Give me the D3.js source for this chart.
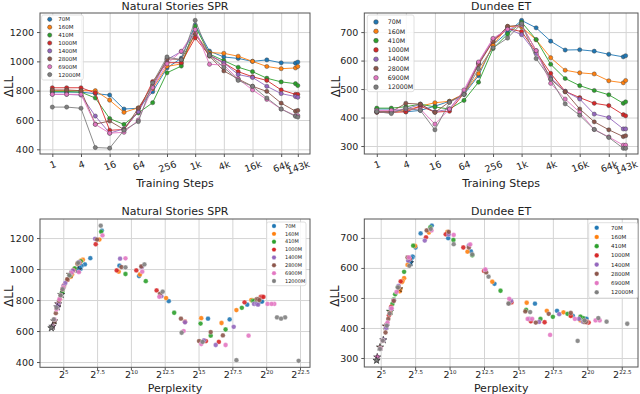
<!DOCTYPE html>
<html><head><meta charset="utf-8">
<script src="https://cdn.jsdelivr.net/npm/d3@7"></script>
<style>body{margin:0;background:#fff} svg{display:block} text{font-family:"DejaVu Sans",sans-serif;fill:#222}</style>
</head><body><svg id="c" width="640" height="394"></svg>
<script>
// ---------- data ----------
const steps = [1,2,4,8,16,32,64,128,256,512,1000,2000,4000,8000,16000,32000,64000,128000,143000];
const models = ["70M","160M","410M","1000M","1400M","2800M","6900M","12000M"];
const colors = ["#1f77b4","#ff7f0e","#2ca02c","#d62728","#9467bd","#8c564b","#e377c2","#7f7f7f"];
const stepTicks = [1,4,16,64,256,1000,4000,16000,64000,143000];
const stepTickLabels = ["1","4","16","64","256","1k","4k","16k","64k","143k"];
const pplTickExps = [5,7.5,10,12.5,15,17.5,20,22.5];
const pplTickLabels = ["5","7.5","10","12.5","15","17.5","20","22.5"];
const nsYTicks = [400,600,800,1000,1200];
const duYTicks = [300,400,500,600,700];

// Natural Stories SPR: delta LL per checkpoint
const ns70M   = [790,790,790,780,770,675,680,793,955,1022,1248,1070,1030,1020,1000,1010,990,988,995];
const ns160M  = [800,800,800,800,735,652,683,813,965,983,1190,1060,1055,1035,1000,965,950,955,965];
const ns410M  = [795,795,790,750,610,570,648,718,922,968,1240,1050,1005,960,930,885,860,848,835];
const ns1000M = [820,820,820,785,530,535,660,862,991,991,1160,1040,990,930,895,870,805,775,775];
const ns1400M = [775,775,770,627,510,540,656,825,1012,1067,1195,1045,990,910,890,830,780,760,755];
const ns2800M = [805,805,800,572,593,535,680,840,1017,1013,1190,1035,935,880,830,795,715,660,665];
const ns6900M = [775,775,775,570,510,516,600,821,983,1069,1217,980,975,880,805,740,675,630,630];
const ns12000M= [688,688,680,412,408,530,589,854,1030,1011,1280,1040,960,870,830,750,675,625,620];
// Natural Stories SPR: log2 perplexity per checkpoint
const nsLogPpl70M   = [19.5,19.6,19.7,19.3,18.6,17.3,15.7,12.8,10.6,9.15,7.85,7.0,6.6,6.35,6.28,6.22,6.15,6.12,6.1];
const nsLogPpl160M  = [19.0,19.2,19.4,18.9,17.8,16.7,15.2,12.6,10.67,9.1,7.67,6.45,6.3,6.05,5.8,5.65,5.55,5.55,5.5];
const nsLogPpl410M  = [19.0,19.1,19.3,18.2,17.0,15.9,15.15,13.2,11.1,9.6,7.8,6.3,5.85,5.5,5.3,5.05,4.95,4.9,4.85];
const nsLogPpl1000M = [19.6,19.7,19.8,18.4,16.5,15.55,14.0,11.9,10.4,8.95,7.4,6.2,5.75,5.3,5.05,4.95,4.75,4.65,4.63];
const nsLogPpl1400M = [19.1,19.3,19.4,17.6,16.27,15.4,14.0,12.25,10.8,9.2,7.35,6.15,5.7,5.15,5.02,4.82,4.65,4.58,4.56];
const nsLogPpl2800M = [19.3,19.4,19.5,16.8,15.9,15.04,13.7,12.15,10.77,9.3,7.5,6.05,5.3,5.0,4.8,4.68,4.45,4.35,4.33];
const nsLogPpl6900M = [20.1,20.6,20.4,18.7,17.0,15.2,13.9,12.1,10.84,9.6,7.9,6.15,5.6,5.0,4.72,4.5,4.35,4.22,4.2];
const nsLogPpl12000M= [20.8,21.4,21.1,17.8,22.4,15.3,13.75,12.35,11.0,9.6,7.77,6.1,5.45,4.95,4.8,4.5,4.3,4.15,4.12];

// Dundee ET: delta LL per checkpoint
const du70M   = [430,430,420,425,440,457,481,547,655,699,741,715,668,637,638,633,622,613,617];
const du160M  = [420,420,425,440,452,457,484,554,654,720,718,673,610,566,557,553,529,522,530];
const du410M  = [433,433,438,447,437,430,460,524,642,693,735,674,587,537,512,495,480,450,455];
const du1000M = [418,418,420,440,419,422,485,590,668,712,702,630,555,492,470,450,442,410,406];
const du1400M = [420,420,430,446,420,430,490,592,675,712,691,625,540,492,465,412,400,360,360];
const du2800M = [420,420,450,447,418,455,482,585,668,720,725,635,535,490,430,385,357,333,336];
const du6900M = [425,425,430,430,377,430,497,595,678,710,725,635,520,465,418,358,332,303,303];
const du12000M= [421,414,433,425,357,453,481,571,645,679,730,607,535,448,408,358,330,292,292];
// Dundee ET: log2 perplexity per checkpoint
const duLogPpl70M   = [19.85,19.95,19.75,19.6,18.95,17.8,16.2,13.26,11.55,9.9,8.71,7.9,7.53,7.35,7.3,7.25,7.18,7.15,7.13];
const duLogPpl160M  = [20.0,19.8,19.5,18.8,18.27,17.06,15.6,13.1,11.3,9.84,8.5,7.5,6.95,6.7,6.6,6.55,6.42,6.38,6.35];
const duLogPpl410M  = [19.6,19.7,19.5,18.56,17.5,16.6,15.56,13.7,11.65,10.28,8.6,7.36,6.7,6.25,6.05,5.95,5.85,5.7,5.68];
const duLogPpl1000M = [20.0,20.1,19.97,18.8,16.9,15.9,14.5,12.5,11.0,9.72,8.29,7.1,6.45,5.95,5.75,5.67,5.6,5.4,5.38];
const duLogPpl1400M = [19.7,19.9,19.4,17.96,16.5,15.8,14.47,12.6,11.4,9.94,8.2,7.0,6.3,5.95,5.75,5.45,5.4,5.2,5.19];
const duLogPpl2800M = [19.8,19.9,18.8,17.2,16.26,15.5,14.3,12.66,11.4,9.94,8.34,6.95,6.3,5.95,5.55,5.35,5.15,4.97,4.95];
const duLogPpl6900M = [20.6,20.9,19.1,15.67,17.3,16.0,14.33,12.6,11.5,10.3,8.69,7.05,6.15,5.8,5.5,5.15,4.98,4.77,4.75];
const duLogPpl12000M= [21.4,22.9,20.8,19.8,19.3,15.85,14.28,12.83,11.65,10.3,8.63,7.08,6.25,5.65,5.45,5.15,4.95,4.72,4.7];

const nsDelta = [ns70M,ns160M,ns410M,ns1000M,ns1400M,ns2800M,ns6900M,ns12000M];
const nsPpl = [nsLogPpl70M,nsLogPpl160M,nsLogPpl410M,nsLogPpl1000M,nsLogPpl1400M,nsLogPpl2800M,nsLogPpl6900M,nsLogPpl12000M];
const duDelta = [du70M,du160M,du410M,du1000M,du1400M,du2800M,du6900M,du12000M];
const duPpl = [duLogPpl70M,duLogPpl160M,duLogPpl410M,duLogPpl1000M,duLogPpl1400M,duLogPpl2800M,duLogPpl6900M,duLogPpl12000M];

// ---------- drawing ----------
const svg = d3.select("#c");
svg.append("rect").attr("width",640).attr("height",394).attr("fill","#fff");
const GRID = "#d4d4d4", SPINE = "#555";

function frame(p, x, y, yTicks, xTickVals) {
  const g = svg.append("g");
  g.append("g").attr("transform",`translate(0,${p.y1})`)
    .call(d3.axisBottom(x).tickValues(xTickVals).tickSize(-(p.y1-p.y0)).tickFormat(""))
    .call(a=>{a.select(".domain").remove(); a.selectAll("line").attr("stroke",GRID).attr("stroke-width",1);});
  g.append("g").attr("transform",`translate(${p.x0},0)`)
    .call(d3.axisLeft(y).tickValues(yTicks).tickSize(-(p.x1-p.x0)).tickFormat(""))
    .call(a=>{a.select(".domain").remove(); a.selectAll("line").attr("stroke",GRID).attr("stroke-width",1);});
  return g;
}
function spines(p, x, y, yTicks, xTickVals, xFormat, rotated) {
  const g = svg.append("g");
  g.append("rect").attr("x",p.x0).attr("y",p.y0).attr("width",p.x1-p.x0).attr("height",p.y1-p.y0)
    .attr("fill","none").attr("stroke",SPINE).attr("stroke-width",1);
  const ya = g.append("g").attr("transform",`translate(${p.x0},0)`)
    .call(d3.axisLeft(y).tickValues(yTicks).tickSize(3).tickPadding(3).tickFormat(d3.format("d")));
  ya.select(".domain").remove();
  ya.selectAll("line").attr("stroke",SPINE);
  ya.selectAll("text").attr("font-size",9.5).attr("fill","#222").attr("font-family","DejaVu Sans");
  const xa = g.append("g").attr("transform",`translate(0,${p.y1})`)
    .call(d3.axisBottom(x).tickValues(xTickVals).tickSize(3).tickPadding(3).tickFormat((d,i)=>rotated?xFormat[i]:""));
  xa.select(".domain").remove();
  xa.selectAll("line").attr("stroke",SPINE);
  if (rotated) {
    xa.selectAll("text").attr("font-size",9.5).attr("fill","#222").attr("font-family","DejaVu Sans")
      .attr("y",0).attr("dy","0.35em").attr("text-anchor","middle")
      .each(function(){
        const w = this.getComputedTextLength(), h = 9.5;
        const a = 20*Math.PI/180;
        const H = w*Math.sin(a) + h*Math.cos(a);
        d3.select(this).attr("transform",`translate(0,${5+H/2}) rotate(-20)`);
      });
  } else {
    xa.selectAll(".tick").each(function(d,i){
      const t = d3.select(this).append("text").attr("y",11).attr("text-anchor","middle")
        .attr("font-family","DejaVu Sans").attr("fill","#222");
      t.append("tspan").attr("font-size",9.5).text("2");
      t.append("tspan").attr("font-size",5.5).attr("dy",-4).text(xFormat[i]);
    });
  }
  return g;
}
function labels(p, title, xlab, titleY, xlabY, ylabX) {
  const cx = (p.x0+p.x1)/2;
  svg.append("text").attr("x",cx).attr("y",titleY).attr("text-anchor","middle").attr("font-size",11).text(title);
  svg.append("text").attr("x",cx).attr("y",xlabY).attr("text-anchor","middle").attr("font-size",11).text(xlab);
  const cy = (p.y0+p.y1)/2 + 3;
  svg.append("text").attr("transform",`translate(${ylabX},${cy}) rotate(-90)`).attr("text-anchor","middle").attr("font-size",12).text("ΔLL");
}
function legend(box, mx, lx, y0, dy, fs, r, edge) {
  const g = svg.append("g");
  g.append("rect").attr("x",box[0]).attr("y",box[1]).attr("width",box[2]-box[0]).attr("height",box[3]-box[1])
    .attr("rx",2).attr("fill","#fff").attr("fill-opacity",0.85).attr("stroke","#d8d8d8").attr("stroke-width",0.8);
  models.forEach((m,i)=>{
    g.append("circle").attr("cx",mx).attr("cy",y0+i*dy).attr("r",r).attr("fill",colors[i])
      .attr("stroke",edge?"#444":"#fff").attr("stroke-width",edge?0.5:0.3);
    g.append("text").attr("x",lx).attr("y",y0+i*dy).attr("dy","0.35em").attr("font-size",fs).text(m);
  });
}

function linePanel(p, deltas, yDomain, yTicks, title, legendCfg) {
  const x = d3.scaleLog().base(2).domain([0.551,258000]).range([p.x0,p.x1]);
  const y = d3.scaleLinear().domain(yDomain).range([p.y1,p.y0]);
  frame(p,x,y,yTicks,stepTicks);
  const line = d3.line().x((d,i)=>x(steps[i])).y(d=>y(d));
  deltas.forEach((arr,k)=>{
    const g = svg.append("g");
    g.append("path").datum(arr).attr("d",line).attr("fill","none").attr("stroke",colors[k]).attr("stroke-width",0.9);
    g.selectAll("circle").data(arr).join("circle").attr("cx",(d,i)=>x(steps[i])).attr("cy",d=>y(d))
      .attr("r",2.1).attr("fill",colors[k]).attr("stroke","#444").attr("stroke-width",0.45);
  });
  spines(p,x,y,yTicks,stepTicks,stepTickLabels,true);
  labels(p,title,"Training Steps",9.5,186.5, p.x0<100?13:340);
  legend(...legendCfg, true);
}
function scatterPanel(p, deltas, ppls, xDomain, yDomain, yTicks, title, legendCfg) {
  const x = d3.scaleLinear().domain(xDomain).range([p.x0,p.x1]);
  const y = d3.scaleLinear().domain(yDomain).range([p.y1,p.y0]);
  frame(p,x,y,yTicks,pplTickExps);
  const star = d3.symbol().type(d3.symbolStar).size(16);
  deltas.forEach((arr,k)=>{
    const g = svg.append("g");
    arr.forEach((d,i)=>{
      if (i === arr.length-1) {
        g.append("path").attr("d",star).attr("transform",`translate(${x(ppls[k][i])},${y(d)})`)
          .attr("fill",colors[k]).attr("stroke","#222").attr("stroke-width",0.6);
      } else {
        g.append("circle").attr("cx",x(ppls[k][i])).attr("cy",y(d)).attr("r",2.4)
          .attr("fill",colors[k]).attr("fill-opacity",0.9).attr("stroke","#fff").attr("stroke-width",0.3);
      }
    });
  });
  spines(p,x,y,yTicks,pplTickExps,pplTickLabels,false);
  labels(p,title,"Perplexity",214.5,391.5, p.x0<100?12.5:338.5);
  legend(...legendCfg, false);
}

const TL = {x0:40,x1:310,y0:13,y1:154};
const TR = {x0:364.3,x1:638,y0:13,y1:154};
const BL = {x0:40,x1:310,y0:219,y1:367.3};
const BR = {x0:364.3,x1:638,y0:219,y1:367};

linePanel(TL, nsDelta, [368,1330], nsYTicks, "Natural Stories SPR", [[41.7,15,83.3,80],49.7,58.3,19.3,7.9,5.5,2.1]);
linePanel(TR, duDelta, [272,767], duYTicks, "Dundee ET", [[367.3,15,414,91.7],376,387.7,22,9.3,6.3,2.3]);
scatterPanel(BL, nsDelta, nsPpl, [3.28,23.24], [366,1323], nsYTicks, "Natural Stories SPR", [[266.7,222,306,285.7],274,285,226,7.86,5,2.2]);
scatterPanel(BR, duDelta, duPpl, [3.81,23.68], [270,763], duYTicks, "Dundee ET", [[588.7,222.7,637.7,298],596.7,611,227.7,9.23,5.5,2.3]);
</script></body></html>
